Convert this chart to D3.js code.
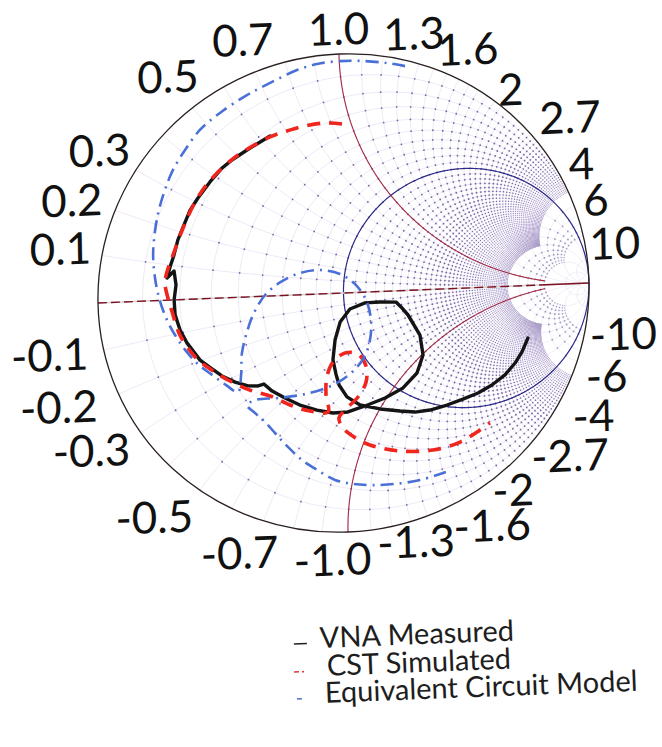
<!DOCTYPE html>
<html>
<head>
<meta charset="utf-8">
<script src="https://cdn.jsdelivr.net/npm/d3@7/dist/d3.min.js"></script>
<style>
  html, body { margin: 0; padding: 0; background: #ffffff; }
  svg { display: block; }
</style>
</head>
<body>
<svg id="chart" width="662" height="747"></svg>
<script>
// Reflection coefficient traces, [real, imaginary]
const vnaMeasured = [
  [-0.287,0.669],[-0.369,0.622],[-0.444,0.575],[-0.485,0.543],[-0.535,0.487],[-0.585,0.422],
  [-0.618,0.373],[-0.644,0.312],[-0.670,0.250],[-0.687,0.188],[-0.704,0.138],[-0.717,0.093],
  [-0.688,0.121],[-0.681,0.062],[-0.690,0.000],[-0.687,-0.063],[-0.668,-0.127],[-0.641,-0.182],
  [-0.589,-0.256],[-0.541,-0.295],[-0.501,-0.326],[-0.448,-0.354],[-0.396,-0.372],[-0.355,-0.374],
  [-0.331,-0.367],[-0.298,-0.398],[-0.246,-0.429],[-0.186,-0.461],[-0.117,-0.485],[-0.052,-0.500],
  [0.009,-0.498],[0.079,-0.476],[0.161,-0.446],[0.235,-0.407],[0.293,-0.347],[0.319,-0.273],
  [0.308,-0.189],[0.261,-0.103],[0.233,-0.068],[0.213,-0.047],[0.148,-0.044],[0.087,-0.045],
  [0.025,-0.068],[-0.016,-0.121],[-0.038,-0.195],[-0.048,-0.278],[-0.037,-0.337],[-0.025,-0.384],
  [0.006,-0.435],[0.059,-0.471],[0.140,-0.491],[0.221,-0.503],[0.282,-0.510],[0.343,-0.504],
  [0.413,-0.486],[0.478,-0.464],[0.540,-0.441],[0.597,-0.410],[0.651,-0.370],[0.693,-0.322],
  [0.722,-0.277],[0.747,-0.220]
];
const cstSimulated = [
  [0.007,0.707],[-0.062,0.714],[-0.144,0.705],[-0.218,0.687],[-0.287,0.665],[-0.373,0.622],
  [-0.452,0.571],[-0.543,0.483],[-0.597,0.406],[-0.648,0.299],[-0.691,0.188],[-0.717,0.118],
  [-0.726,0.072],[-0.715,0.009],[-0.699,-0.050],[-0.669,-0.148],[-0.609,-0.242],[-0.549,-0.295],
  [-0.477,-0.344],[-0.388,-0.390],[-0.307,-0.418],[-0.226,-0.459],[-0.145,-0.488],[-0.072,-0.495],
  [-0.079,-0.424],[-0.074,-0.348],[-0.048,-0.287],[0.002,-0.251],[0.054,-0.258],[0.086,-0.309],
  [0.085,-0.376],[0.051,-0.437],[0.001,-0.486],[-0.028,-0.522],[-0.012,-0.564],[0.032,-0.604],
  [0.096,-0.640],[0.218,-0.670],[0.352,-0.672],[0.463,-0.643],[0.545,-0.596],[0.586,-0.568]
];
const circuitModel = [
  [0.268,0.938],[0.195,0.954],[0.093,0.967],[0.004,0.970],[-0.090,0.962],[-0.172,0.940],
  [-0.242,0.910],[-0.316,0.875],[-0.378,0.844],[-0.489,0.774],[-0.572,0.706],[-0.634,0.625],
  [-0.685,0.543],[-0.719,0.461],[-0.745,0.378],[-0.763,0.287],[-0.772,0.191],[-0.766,0.095],
  [-0.751,0.011],[-0.724,-0.074],[-0.689,-0.147],[-0.645,-0.216],[-0.598,-0.272],[-0.541,-0.320],
  [-0.485,-0.365],[-0.437,-0.396],[-0.423,-0.325],[-0.418,-0.234],[-0.396,-0.147],[-0.366,-0.068],
  [-0.316,0.009],[-0.254,0.057],[-0.176,0.091],[-0.094,0.100],[-0.013,0.080],[0.047,0.036],
  [0.091,-0.033],[0.110,-0.117],[0.104,-0.201],[0.078,-0.275],[0.024,-0.336],[-0.050,-0.383],
  [-0.164,-0.416],[-0.275,-0.428],[-0.364,-0.432],[-0.401,-0.452],[-0.369,-0.487],[-0.329,-0.526],
  [-0.286,-0.578],[-0.238,-0.634],[-0.182,-0.691],[-0.121,-0.735],[-0.049,-0.780],[0.024,-0.800],
  [0.101,-0.808],[0.195,-0.807],[0.297,-0.795],[0.403,-0.766]
];

// Reactance labels around the rim
const reactanceLabels = ["0.1","0.2","0.3","0.5","0.7","1.0","1.3","1.6","2","2.7","4","6","10"];
const seriesNames = ["VNA Measured", "CST Simulated", "Equivalent Circuit Model"];

// Hand tweaks so crowded rim labels don't collide
const labelNudge = {
  "0.2": [-3, 5], "0.3": [0, 3], "1.3": [4, 6], "1.6": [5, 9], "2": [6, 18], "2.7": [11, 17],
  "4": [-1, 6], "6": [-3, 3], "10": [-5, 16],
  "-0.1": [-5, -7], "-0.2": [-13, -9], "-0.3": [-8, -12], "-0.5": [-19, -11], "-0.7": [-12, -4],
  "-1.0": [-16, 2], "-1.3": [-4, -13], "-1.6": [19, -13], "-2": [-2, -15], "-2.7": [0, -16],
  "-4": [0, 4], "-6": [-3, 5], "-10": [-6, -4]
};

const svg = d3.select("#chart");
const RX = 246, RY = 239;
const xS = d3.scaleLinear().domain([-1, 1]).range([-RX, RX]);
const yS = d3.scaleLinear().domain([-1, 1]).range([RY, -RY]);

const plot = svg.append("g")
  .attr("transform", "matrix(0.998,-0.0407,0.0188,1,343.5,293)");

// z = r + jx  ->  reflection coefficient
function gamma(r, x) {
  const d = (r + 1) * (r + 1) + x * x;
  return [(r * r - 1 + x * x) / d, 2 * x / d];
}
// constant-resistance arc between two reactances
function rArc(r, x0, x1, n = 120) {
  const a0 = Math.atan(x0 / (1 + r)), a1 = Math.atan(x1 / (1 + r));
  return d3.range(n + 1).map(i => {
    const a = a0 + (a1 - a0) * i / n;
    return gamma(r, (1 + r) * Math.tan(a));
  });
}
// constant-reactance arc between two resistances
function xArc(x, r0, r1, n = 120) {
  const g0 = Math.atan(x / (r0 + 1));
  const g1 = isFinite(r1) ? Math.atan(x / (r1 + 1)) : 0;
  return d3.range(n + 1).map(i => {
    const g = g0 + (g1 - g0) * i / n;
    const r = Math.abs(g) < 1e-9 ? 1e9 : x / Math.tan(g) - 1;
    return gamma(r, x);
  });
}
const path = d3.line().x(d => xS(d[0])).y(d => yS(d[1]));

const gridG = plot.append("g");
const dotG = plot.append("g");
function gridLine(pts, color, w) {
  gridG.append("path").attr("d", path(pts)).attr("fill", "none")
    .attr("stroke", color).attr("stroke-width", w);
}
// dot size shrinks where grid lines crowd together
function gridDot(r, x, step, color) {
  const p = gamma(r, x);
  const zr = r + 1;
  const spacing = step * RX * 2 / (zr * zr + x * x);
  const rad = Math.max(0.4, Math.min(0.9, spacing * 0.22));
  dotG.append("circle").attr("cx", xS(p[0])).attr("cy", yS(p[1]))
    .attr("r", rad).attr("fill", color);
}

// Fine grid: r, x up to 5 in steps of 0.1
const fine = d3.range(1, 51).map(i => i / 10);
const fineLine = "rgba(160,135,210,0.36)", fineDot = "rgba(92,74,140,0.8)";
fine.forEach(r => gridLine(rArc(r, -5, 5), fineLine, 0.5));
fine.forEach(x => { gridLine(xArc(x, 0, 5), fineLine, 0.5); gridLine(xArc(-x, 0, 5), fineLine, 0.5); });
fine.forEach(r => {
  gridDot(r, 0, 0.1, "rgba(160,160,160,0.9)");
  fine.forEach(x => { gridDot(r, x, 0.1, fineDot); gridDot(r, -x, 0.1, fineDot); });
});

// Medium grid: between 5 and 10
const midLine = "rgba(175,165,220,0.35)", midDot = "rgba(110,95,150,0.6)";
const mid = d3.range(1, 11);
mid.forEach(v => {
  if (v > 5) {
    gridLine(rArc(v, -10, 10, 80), midLine, 0.5);
    gridLine(xArc(v, 0, 10, 80), midLine, 0.5);
    gridLine(xArc(-v, 0, 10, 80), midLine, 0.5);
  } else {
    gridLine(rArc(v, 5, 10, 40), midLine, 0.5);
    gridLine(rArc(v, -10, -5, 40), midLine, 0.5);
    gridLine(xArc(v, 5, 10, 40), midLine, 0.5);
    gridLine(xArc(-v, 5, 10, 40), midLine, 0.5);
  }
});
mid.forEach(r => [0, ...mid, ...mid.map(v => -v)].forEach(x => {
  if (r > 5 || Math.abs(x) > 5) gridDot(r, x, 1, midDot);
}));

// Coarse grid: beyond 10
const coarse = [2, 5, 10, 20, 50];
coarse.forEach(v => {
  if (v > 10) {
    gridLine(rArc(v, -50, 50, 60), midLine, 0.5);
    gridLine(xArc(v, 0, 50, 60), midLine, 0.5);
    gridLine(xArc(-v, 0, 50, 60), midLine, 0.5);
  } else {
    gridLine(rArc(v, 10, 50, 30), midLine, 0.5);
    gridLine(rArc(v, -50, -10, 30), midLine, 0.5);
    gridLine(xArc(v, 10, 50, 30), midLine, 0.5);
    gridLine(xArc(-v, 10, 50, 30), midLine, 0.5);
  }
});

// Main reference lines
const majorG = plot.append("g").attr("fill", "none");
majorG.append("path").attr("d", path(rArc(1, -1e7, 1e7, 360)))
  .attr("stroke", "#2c2a88").attr("stroke-width", 1.2);
majorG.append("path").attr("d", path(xArc(1, 0, 10, 200)))
  .attr("stroke", "#a52a45").attr("stroke-width", 1.1);
majorG.append("path").attr("d", path(xArc(-1, 0, 10, 200)))
  .attr("stroke", "#a52a45").attr("stroke-width", 1.1);
majorG.append("path").attr("d", path([[-1, 0], [1, 0]]))
  .attr("stroke", "#d2d2d2").attr("stroke-width", 1.6);
majorG.append("path").attr("d", path([[-1, 0], [0.8, 0]]))
  .attr("stroke", "#7d1022").attr("stroke-width", 1.4).attr("stroke-dasharray", "9 4");
majorG.append("path").attr("d", path([[0.8, 0], [1, 0]]))
  .attr("stroke", "#7d1022").attr("stroke-width", 1.4);
majorG.append("ellipse").attr("cx", 0).attr("cy", 0).attr("rx", RX).attr("ry", RY)
  .attr("stroke", "#2b2020").attr("stroke-width", 1.3);

// Traces
const traceG = plot.append("g").attr("fill", "none")
  .attr("stroke-linecap", "round").attr("stroke-linejoin", "round");
traceG.append("path").attr("d", path(vnaMeasured))
  .attr("stroke", "#141414").attr("stroke-width", 3.4);
const smooth = d3.line().x(d => xS(d[0])).y(d => yS(d[1])).curve(d3.curveCatmullRom.alpha(0.5));
traceG.append("path").attr("d", smooth(cstSimulated))
  .attr("stroke", "#f0261e").attr("stroke-width", 3.6)
  .attr("stroke-linecap", "butt").attr("stroke-dasharray", "13 9");
traceG.append("path").attr("d", smooth(circuitModel))
  .attr("stroke", "#4a70d8").attr("stroke-width", 2.6)
  .attr("stroke-linecap", "butt").attr("stroke-dasharray", "13 6 2 6");

// Rim labels
const fs = 44;
const labelG = plot.append("g").attr("font-family", "Lato, 'Open Sans', sans-serif")
  .attr("font-size", fs).attr("fill", "#111").attr("text-anchor", "middle");
reactanceLabels.forEach(s => {
  const v = +s;
  [1, -1].forEach(sign => {
    const x = sign * v;
    const txt = sign > 0 ? s : "-" + s;
    const th = Math.PI - 2 * Math.atan(x);
    const c = Math.cos(th), sn = Math.sin(th);
    const px = xS(c), py = yS(sn);
    const t = labelG.append("text").text(txt);
    const w = t.node().getComputedTextLength();
    const ext = 9 + Math.abs(c) * w / 2 + Math.abs(sn) * 16;
    const nd = labelNudge[txt] || [0, 0];
    t.attr("x", px + c * ext + nd[0]).attr("y", py - sn * ext + 0.36 * fs + nd[1]);
  });
});

// Legend
const legend = svg.append("g").attr("transform", "rotate(-2.2, 320, 672)");
const legFont = { family: "Lato, 'Open Sans', sans-serif", size: 29 };
const legRows = [
  { y: 648, tx: 321, marker: g => g.append("line").attr("x1", 295).attr("x2", 308).attr("y1", 643).attr("y2", 643)
      .attr("stroke", "#222").attr("stroke-width", 1.6) },
  { y: 676, tx: 327, marker: g => g.append("line").attr("x1", 294).attr("x2", 306).attr("y1", 671).attr("y2", 671)
      .attr("stroke", "#e23a3a").attr("stroke-width", 1.6).attr("stroke-dasharray", "5 3 2 3") },
  { y: 703, tx: 324, marker: g => g.append("line").attr("x1", 296).attr("x2", 301).attr("y1", 698).attr("y2", 698)
      .attr("stroke", "#5b7bd0").attr("stroke-width", 1.6) }
];
legRows.forEach((row, i) => {
  row.marker(legend);
  legend.append("text").attr("x", row.tx).attr("y", row.y)
    .attr("font-family", legFont.family).attr("font-size", legFont.size)
    .attr("fill", "#1e1e1e").text(seriesNames[i]);
});
</script>
</body>
</html>
